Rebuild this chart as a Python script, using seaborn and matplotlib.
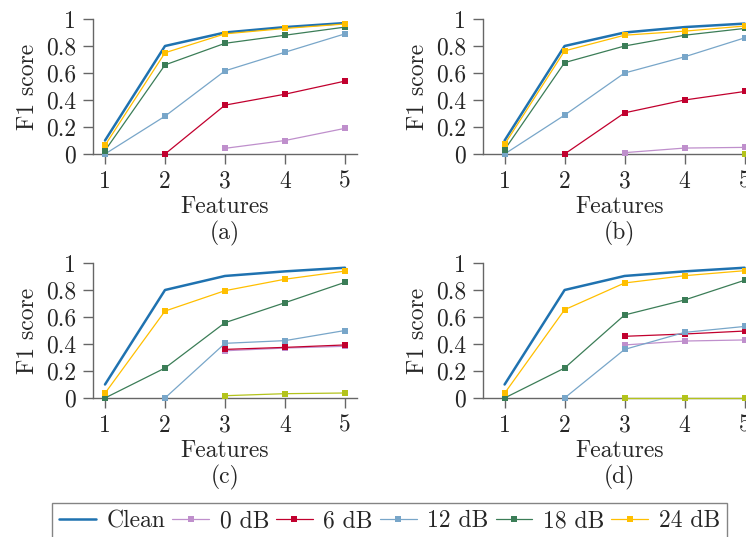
import numpy as np
import pandas as pd
import matplotlib
matplotlib.use('Agg')
import matplotlib.pyplot as plt
import seaborn as sns

nan = np.nan
features = [1, 2, 3, 4, 5]
series_names = ['Clean', '0 dB', '6 dB', '12 dB', '18 dB', '24 dB', 'extra']
panel_labels = ['(a)', '(b)', '(c)', '(d)']

# panel (a)
a_clean = [0.10, 0.80, 0.90, 0.94, 0.97]
a_0db = [nan, nan, 0.042, 0.10, 0.19]
a_6db = [nan, 0.0, 0.362, 0.443, 0.54]
a_12db = [0.0, 0.28, 0.616, 0.754, 0.89]
a_18db = [0.025, 0.66, 0.82, 0.88, 0.94]
a_24db = [0.064, 0.75, 0.89, 0.93, 0.963]
a_extra = [nan, nan, nan, nan, nan]

# panel (b)
b_clean = [0.10, 0.80, 0.90, 0.94, 0.966]
b_0db = [nan, nan, 0.01, 0.044, 0.049]
b_6db = [nan, 0.0, 0.305, 0.40, 0.463]
b_12db = [0.0, 0.288, 0.60, 0.72, 0.86]
b_18db = [0.032, 0.677, 0.80, 0.88, 0.93]
b_24db = [0.071, 0.764, 0.88, 0.91, 0.948]
b_extra = [nan, nan, nan, nan, 0.0]

# panel (c)
c_clean = [0.10, 0.80, 0.904, 0.938, 0.965]
c_0db = [nan, nan, 0.35, 0.37, 0.383]
c_6db = [nan, nan, 0.36, 0.375, 0.393]
c_12db = [nan, 0.0, 0.405, 0.425, 0.50]
c_18db = [0.0, 0.222, 0.558, 0.706, 0.857]
c_24db = [0.035, 0.644, 0.795, 0.88, 0.94]
c_extra = [nan, nan, 0.017, 0.032, 0.037]

# panel (d)
d_clean = [0.10, 0.80, 0.904, 0.938, 0.965]
d_0db = [nan, nan, 0.393, 0.422, 0.43]
d_6db = [nan, nan, 0.457, 0.474, 0.496]
d_12db = [nan, 0.0, 0.36, 0.486, 0.53]
d_18db = [0.0, 0.222, 0.615, 0.726, 0.872]
d_24db = [0.035, 0.654, 0.852, 0.906, 0.943]
d_extra = [nan, nan, 0.0, 0.0, 0.0]

panels = [
    [a_clean, a_0db, a_6db, a_12db, a_18db, a_24db, a_extra],
    [b_clean, b_0db, b_6db, b_12db, b_18db, b_24db, b_extra],
    [c_clean, c_0db, c_6db, c_12db, c_18db, c_24db, c_extra],
    [d_clean, d_0db, d_6db, d_12db, d_18db, d_24db, d_extra],
]

colors = ['#1f72b0', '#bf8fcc', '#c1002e', '#78a6c9', '#3b7d57', '#ffbf00', '#b3c31c']

sns.set_theme(style='white')
plt.rcParams['font.family'] = ['cmr10', 'DejaVu Serif']
plt.rcParams['mathtext.fontset'] = 'cm'
plt.rcParams['axes.formatter.use_mathtext'] = True

W, H = 746, 537
fig = plt.figure(figsize=(W / 100, H / 100), dpi=100)
fs = 17

# axes boxes in pixels: (left, top, xmin)
boxes = [(93, 19, 0.8), (483, 19, 0.64), (93, 263, 0.8), (483, 263, 0.64)]
grey = '#666666'

handles = []
for k, (left, top, xmin) in enumerate(boxes):
    width_px = (5.2 - xmin) * 60
    ax = fig.add_axes([left / W, (H - top - 135) / H, width_px / W, 135 / H])
    for name, vals, col in zip(series_names, panels[k], colors):
        df = pd.DataFrame({'x': features, 'y': vals}).dropna()
        if name == 'Clean':
            sns.lineplot(data=df, x='x', y='y', ax=ax, color=col, lw=1.8,
                         clip_on=False, zorder=3, label=name if k == 0 else None)
        else:
            sns.lineplot(data=df, x='x', y='y', ax=ax, color=col, lw=0.9,
                         marker='s', markersize=4.5, markeredgewidth=0,
                         clip_on=False, zorder=4,
                         label=name if (k == 0 and name != 'extra') else None)
    if ax.get_legend() is not None:
        ax.get_legend().remove()
    ax.set_xlim(xmin, 5.2)
    ax.set_ylim(0, 1)
    ax.set_xticks(features)
    ax.set_xticklabels([str(f) for f in features])
    ax.set_yticks([0, 0.2, 0.4, 0.6, 0.8, 1])
    ax.set_yticklabels(['0', '0.2', '0.4', '0.6', '0.8', '1'])
    for s in ['top', 'right']:
        ax.spines[s].set_visible(False)
    for s in ['left', 'bottom']:
        ax.spines[s].set_color(grey)
        ax.spines[s].set_linewidth(1.0)
    ax.tick_params(axis='both', direction='out', length=7, width=1.0,
                   color=grey, labelsize=fs, pad=5, left=True, bottom=True)
    ax.set_xlabel('Features\n' + panel_labels[k], fontsize=fs, linespacing=1.2, labelpad=2)
    ax.set_ylabel('F1 score', fontsize=fs, labelpad=5)
    if k == 0:
        handles, labels = ax.get_legend_handles_labels()

leg = fig.legend(handles, labels, loc='upper center', ncol=6,
                 bbox_to_anchor=(389.5 / W, 1 - 503 / H), fontsize=fs,
                 frameon=True, fancybox=False, edgecolor=grey,
                 handlelength=1.55, handletextpad=0.45, columnspacing=0.3,
                 borderpad=0.3, borderaxespad=0)
leg.get_frame().set_linewidth(1.0)

fig.savefig('out.png', dpi=100)
